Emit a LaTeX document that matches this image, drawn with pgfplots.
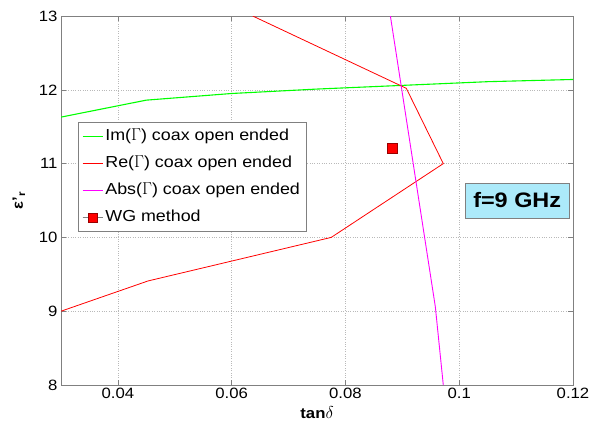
\documentclass[border=0pt]{standalone}
\usepackage{fontspec}
\setmainfont{Liberation Sans}[FakeStretch=1.12]
\usepackage{pgfplots}
\pgfplotsset{compat=1.18}
\definecolor{boxblue}{RGB}{172,234,250}
\definecolor{axgray}{RGB}{128,128,128}
\definecolor{mgreen}{RGB}{0,255,0}
\definecolor{mred}{RGB}{255,0,0}
\definecolor{mmag}{RGB}{255,0,255}

\begin{document}
\begin{tikzpicture}[x=1bp,y=1bp]
\useasboundingbox (-61,-37) rectangle (529,385);
\begin{axis}[
  at={(0,0)}, anchor=south west,
  width=512bp, height=369bp, scale only axis,
  xmin=0.03, xmax=0.12, ymin=8, ymax=13,
  xtick={0.04,0.06,0.08,0.1,0.12},
  ytick={8,9,10,11,12,13},
  scaled x ticks=false,
  xticklabel style={/pgf/number format/fixed, /pgf/number format/precision=2},
  /pgf/number format/assume math mode=true,
  tick label style={font=\fontsize{15}{15}\selectfont},
  xlabel={\bfseries tan\fontsize{16.5}{16.5}\selectfont$\delta$},
  ylabel={\bfseries ε'\textsubscript{r}},
  label style={font=\fontsize{15}{15}\selectfont},
  xlabel style={yshift=-1bp},
  ylabel style={yshift=7bp},
  grid=major,
  major grid style={dotted, gray!55, line width=0.35bp},
  axis line style={axgray, line width=0.6bp},
  tick style={axgray, line width=0.6bp},
  tick align=inside,
  major tick length=5bp,
  legend cell align=left,
  legend style={at={(0.033,0.712)}, anchor=north west, draw=axgray,
    fill=white, font=\fontsize{16}{16}\selectfont, row sep=13bp,
    inner xsep=4bp, inner ysep=7bp,
    nodes={inner xsep=2bp, inner ysep=0bp, text height=11bp, text depth=3bp}},
]
\addplot[mgreen, line width=1.1bp,
  legend image code/.code={\draw[mgreen, line width=1.2bp] (0bp,0bp) -- (20bp,0bp);}]
  coordinates {
  (0.03,11.63) (0.045,11.86) (0.06,11.95) (0.075,12.01)
  (0.09,12.06) (0.105,12.11) (0.12,12.14)
};
\addlegendentry{Im($\Gamma$) coax open ended}
\addplot[mred, line width=0.8bp,
  legend image code/.code={\draw[mred, line width=1.3bp] (0bp,0.3bp) -- (20bp,0.3bp);}]
  coordinates {
  (0.03,9.0) (0.0453,9.41) (0.0775,10.0) (0.0972,11.0)
  (0.0907,12.02) (0.0637,13.0)
};
\addlegendentry{Re($\Gamma$) coax open ended}
\addplot[mmag, line width=0.9bp,
  legend image code/.code={\draw[mmag, line width=1.2bp] (0bp,0bp) -- (20bp,0bp);}]
  coordinates {
  (0.0879,13.0) (0.0958,9.06) (0.0972,8.0)
};
\addlegendentry{Abs($\Gamma$) coax open ended\hspace{17bp}}
\addplot[only marks, mark=square*, mark size=5bp,
  mark options={fill=mred, draw=red!60!black, line width=0.4bp},
  legend image code/.code={
    \draw[axgray, line width=0.4bp] (0bp,0bp) -- (20bp,0bp);
    \draw[fill=mred, draw=red!60!black, line width=0.4bp] (5.5bp,-4.5bp) rectangle (14.5bp,4.5bp);}
] coordinates {(0.0882,11.21)};
\addlegendentry{WG method}
\node[draw=axgray, fill=boxblue, font=\bfseries\fontsize{21}{21}\selectfont,
  minimum width=104bp, minimum height=35bp, inner sep=2bp]
  at (rel axis cs:0.891,0.5) {f=9 GHz};
\end{axis}
\end{tikzpicture}
\end{document}
